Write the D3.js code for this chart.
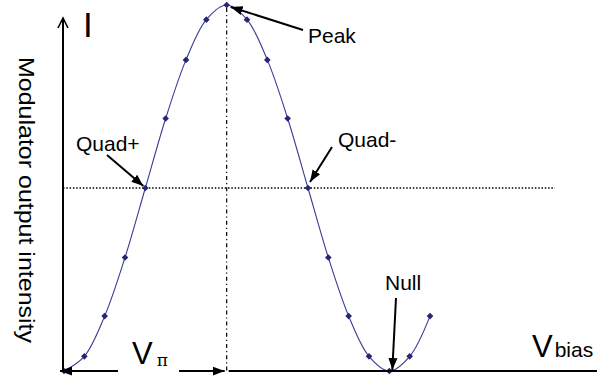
<!DOCTYPE html>
<html>
<head>
<meta charset="utf-8">
<script src="https://cdn.jsdelivr.net/npm/d3@7"></script>
<style>
  body { margin: 0; background: #fff; }
  text { font-family: "Liberation Sans", Arial, sans-serif; fill: #000; }
</style>
</head>
<body>
<svg id="chart"></svg>
<script>
// bias steps (Vpi = 8 steps) and normalised output intensity
var biasSteps = [0, 1, 2, 3, 4, 5, 6, 7, 8, 9, 10, 11, 12, 13, 14, 15, 16, 17, 18]
var intensity = [0, 0.04, 0.15, 0.31, 0.5, 0.69, 0.85, 0.96, 1, 0.96, 0.85, 0.69, 0.5, 0.31, 0.15, 0.04, 0, 0.04, 0.15]

// operating points that get a label + arrow
var pointNames = ["Peak", "Quad+", "Quad-", "Null"]
var pointIndex = [8, 4, 12, 16]

var quadLevel = 0.5
var peakStep = 8

var screen = { width: 597, height: 377 }

var xScale = d3.scaleLinear()
    .domain([0, 18])
    .range([64, 430])

var yScale = d3.scaleLinear()
    .domain([0, 1])
    .range([371, 5])

var axisX = 63
var axisY = 371

var svg = d3.select("#chart")
    .attr("width", screen.width)
    .attr("height", screen.height)

var defs = svg.append("defs")
defs.append("marker")
    .attr("id", "head")
    .attr("markerUnits", "userSpaceOnUse")
    .attr("markerWidth", 13)
    .attr("markerHeight", 10)
    .attr("refX", 12)
    .attr("refY", 5)
    .attr("orient", "auto")
  .append("path")
    .attr("d", "M0,0.5L12,5L0,9.5z")
    .attr("fill", "#000")

defs.append("marker")
    .attr("id", "open")
    .attr("markerUnits", "userSpaceOnUse")
    .attr("markerWidth", 14)
    .attr("markerHeight", 14)
    .attr("refX", 11)
    .attr("refY", 6)
    .attr("orient", "auto")
  .append("path")
    .attr("d", "M1,1L11,6L1,11")
    .attr("fill", "none")
    .attr("stroke", "#000")
    .attr("stroke-width", 1.6)

var data = biasSteps.map(function(d, i){
  return { x: d, y: intensity[i] }
})

// reference lines
svg.append("line")
    .attr("x1", axisX)
    .attr("x2", 555)
    .attr("y1", yScale(quadLevel))
    .attr("y2", yScale(quadLevel))
    .attr("stroke", "#000")
    .attr("stroke-width", 1.4)
    .attr("stroke-dasharray", "1.5,1.8")

svg.append("line")
    .attr("x1", xScale(peakStep))
    .attr("x2", xScale(peakStep))
    .attr("y1", yScale(1) + 3)
    .attr("y2", axisY)
    .attr("stroke", "#000")
    .attr("stroke-width", 1.2)
    .attr("stroke-dasharray", "4,3,1.2,3")

// curve
var line = d3.line()
    .x(function(d){ return xScale(d.x) })
    .y(function(d){ return yScale(d.y) })
    .curve(d3.curveCatmullRom.alpha(0.5))

svg.append("path")
    .datum(data)
    .attr("d", line)
    .attr("fill", "none")
    .attr("stroke", "#3a3a98")
    .attr("stroke-width", 1.1)

svg.selectAll(".dot")
  .data(data)
  .enter()
  .append("path")
    .attr("class", "dot")
    .attr("d", d3.symbol(d3.symbolSquare, 22))
    .attr("transform", function(d){
      return "translate(" + xScale(d.x) + "," + yScale(d.y) + ") rotate(45)"
    })
    .attr("fill", "#262673")

// axes
svg.append("line")
    .attr("x1", axisX)
    .attr("x2", axisX)
    .attr("y1", axisY + 1)
    .attr("y2", 18)
    .attr("stroke", "#000")
    .attr("stroke-width", 2)
    .attr("marker-end", "url(#open)")

svg.append("line")
    .attr("x1", xScale(peakStep) + 2)
    .attr("x2", screen.width)
    .attr("y1", axisY)
    .attr("y2", axisY)
    .attr("stroke", "#000")
    .attr("stroke-width", 2.2)

// V pi double arrow between x(0) and x(peak)
svg.append("line")
    .attr("x1", 118)
    .attr("x2", xScale(0) - 4)
    .attr("y1", axisY)
    .attr("y2", axisY)
    .attr("stroke", "#000")
    .attr("stroke-width", 2.2)
    .attr("marker-end", "url(#head)")

svg.append("line")
    .attr("x1", 179)
    .attr("x2", xScale(peakStep) - 2)
    .attr("y1", axisY)
    .attr("y2", axisY)
    .attr("stroke", "#000")
    .attr("stroke-width", 2.2)
    .attr("marker-end", "url(#head)")

// labelled arrows: [label x, label baseline, arrow start x, y, tip dx, tip dy]
var labelPos = [
  [308, 43, 303, 30, 4, 2],
  [76, 151, 107, 155, -2, -2],
  [338, 147, 332, 147, 2, -6],
  [385, 290, 396, 298, 3, -1]
]

pointNames.forEach(function(name, i){
  var p = labelPos[i]
  var k = pointIndex[i]
  svg.append("line")
      .attr("x1", p[2])
      .attr("y1", p[3])
      .attr("x2", xScale(biasSteps[k]) + p[4])
      .attr("y2", yScale(intensity[k]) + p[5])
      .attr("stroke", "#000")
      .attr("stroke-width", 2)
      .attr("marker-end", "url(#head)")
  svg.append("text")
      .attr("x", p[0])
      .attr("y", p[1])
      .attr("font-size", 21)
      .text(name)
})

// axis titles
svg.append("text")
    .attr("x", 83)
    .attr("y", 37)
    .attr("font-size", 35)
    .text("I")

svg.append("text")
    .attr("transform", "translate(19,57) rotate(90)")
    .attr("font-size", 22)
    .attr("textLength", 286)
    .attr("lengthAdjust", "spacingAndGlyphs")
    .text("Modulator output intensity")

var vpi = svg.append("text")
    .attr("x", 132)
    .attr("y", 364)
    .attr("font-size", 31)
vpi.append("tspan").text("V")
vpi.append("tspan")
    .attr("dx", 4)
    .attr("dy", 2)
    .attr("font-size", 17)
    .attr("font-family", "'DejaVu Serif', serif")
    .text("π")

var vb = svg.append("text")
    .attr("x", 532)
    .attr("y", 357)
    .attr("font-size", 31)
vb.append("tspan").text("V")
vb.append("tspan")
    .attr("dx", 2)
    .attr("font-size", 21)
    .text("bias")
</script>
</body>
</html>
